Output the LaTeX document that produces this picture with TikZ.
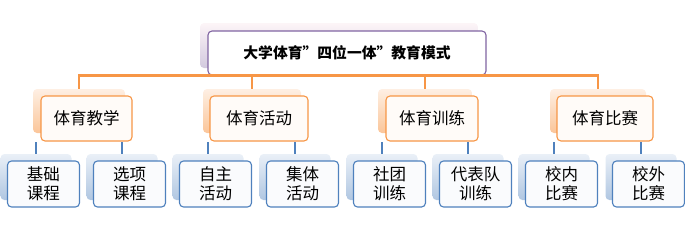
\documentclass[tikz,border=0pt]{standalone}
\usepackage{fontspec}
\newfontfamily\cjk{Noto Sans CJK SC}
\definecolor{orgline}{HTML}{F79646}
\definecolor{blueline}{HTML}{4F81BD}
\definecolor{purpline}{HTML}{8064A2}
\newcommand{\fwq}{\makebox[1em][l]{”}}
\tikzset{
  topsh/.style={rectangle, rounded corners=4pt, top color=purple!4!white, bottom color=purpline!35!white, draw=none, minimum width=278pt, minimum height=45pt, inner sep=0pt},
  topfr/.style={rectangle, rounded corners=4pt, fill=white, draw=purpline, line width=1.1pt, minimum width=278pt, minimum height=44pt, inner sep=0pt, font=\cjk\bfseries\fontsize{14.8}{17}\selectfont},
  midsh/.style={rectangle, rounded corners=4pt, top color=orgline!15!white, bottom color=orgline!55!white, draw=none, minimum height=44pt, inner sep=0pt},
  midfr/.style={rectangle, rounded corners=4pt, fill=orgline!4!white, draw=orgline, line width=1.1pt, minimum height=45pt, inner sep=0pt, font=\cjk\fontsize{16.5}{19}\selectfont},
  botsh/.style={rectangle, rounded corners=4pt, top color=blueline!12!white, bottom color=blueline!45!white, draw=none, minimum width=71pt, minimum height=46pt, inner sep=0pt},
  botfr/.style={rectangle, rounded corners=4pt, fill=blueline!3!white, draw=blueline, line width=1.1pt, minimum width=72pt, minimum height=46pt, inner sep=0pt, align=center, font=\cjk\fontsize{16.5}{19}\selectfont},
  oconn/.style={draw=orgline, line width=2.6pt},
  bconn/.style={draw=blueline, line width=2.6pt},
}
\begin{document}
\begin{tikzpicture}[x=1pt,y=-1pt]
\useasboundingbox (0,0) rectangle (685,231);
% top
\node[topsh] (ts) at (339,45.5) {};
\node[topfr] (tf) at (347,53) {大学体育\fwq 四位一体\fwq 教育模式};
% mid shadows
\node[midsh, minimum width=92pt] (m1s) at (79,111) {};
\node[midsh, minimum width=98pt] (m2s) at (252,111) {};
\node[midsh, minimum width=94pt] (m3s) at (425,111) {};
\node[midsh, minimum width=96pt] (m4s) at (598,111) {};
% orange connectors
\draw[oconn] (m1s.north) -- (m1s.north |- tf.south) -- (m4s.north |- tf.south) -- (m4s.north);
\draw[oconn] (m2s.north) -- (m2s.north |- tf.south);
\draw[oconn] (m3s.north) -- (m3s.north |- tf.south);
% mid fronts
\node[midfr, minimum width=91pt] (m1f) at (86.5,118.5) {体育教学};
\node[midfr, minimum width=98pt] (m2f) at (259,118.5) {体育活动};
\node[midfr, minimum width=92pt] (m3f) at (432,118.5) {体育训练};
\node[midfr, minimum width=96pt] (m4f) at (605,118.5) {体育比赛};
% bottom shadows
\foreach \i/\x in {1/36,2/122,3/208,4/295,5/382,6/468,7/554,8/641}{
  \node[botsh] (b\i s) at (\x,177) {};
}
% blue connectors
\draw[bconn] (b1s.north) -- (b1s.north |- m1f.south);
\draw[bconn] (b2s.north) -- (b2s.north |- m1f.south);
\draw[bconn] (b3s.north) -- (b3s.north |- m2f.south);
\draw[bconn] (b4s.north) -- (b4s.north |- m2f.south);
\draw[bconn] (b5s.north) -- (b5s.north |- m3f.south);
\draw[bconn] (b6s.north) -- (b6s.north |- m3f.south);
\draw[bconn] (b7s.north) -- (b7s.north |- m4f.south);
\draw[bconn] (b8s.north) -- (b8s.north |- m4f.south);
% bottom fronts
\node[botfr] (b1f) at (43.5,184) {基础\\课程};
\node[botfr] (b2f) at (129.5,184) {选项\\课程};
\node[botfr] (b3f) at (215.5,184) {自主\\活动};
\node[botfr] (b4f) at (302.5,184) {集体\\活动};
\node[botfr] (b5f) at (389.5,184) {社团\\训练};
\node[botfr] (b6f) at (475.5,184) {代表队\\训练};
\node[botfr] (b7f) at (561.5,184) {校内\\比赛};
\node[botfr] (b8f) at (648.5,184) {校外\\比赛};
\end{tikzpicture}
\end{document}
